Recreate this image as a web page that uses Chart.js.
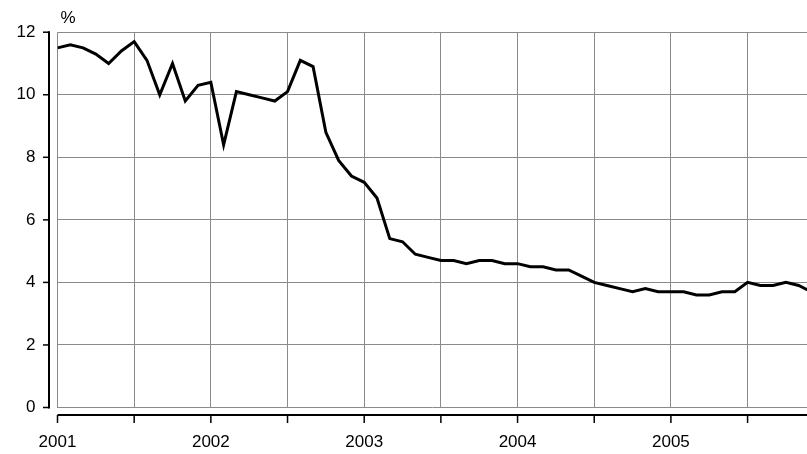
<!DOCTYPE html>
<html>
<head>
<meta charset="utf-8">
<script src="https://cdn.jsdelivr.net/npm/chart.js@4"></script>
<style>
  body { margin: 0; background: #fff; }
  #wrap { width: 807px; height: 454px; }
</style>
</head>
<body>
<div id="wrap"><canvas id="chart"></canvas></div>
<script>
// monthly values, Jan 2001 onwards (%)
const startYear = 2001;
const rates = [
  11.5, 11.6, 11.5, 11.3, 11.0, 11.4, 11.7, 11.1, 10.0, 11.0, 9.8, 10.3,
  10.4, 8.4, 10.1, 10.0, 9.9, 9.8, 10.1, 11.1, 10.9, 8.8, 7.9, 7.4,
  7.2, 6.7, 5.4, 5.3, 4.9, 4.8, 4.7, 4.7, 4.6, 4.7, 4.7, 4.6,
  4.6, 4.5, 4.5, 4.4, 4.4, 4.2, 4.0, 3.9, 3.8, 3.7, 3.8, 3.7,
  3.7, 3.7, 3.6, 3.6, 3.7, 3.7, 4.0, 3.9, 3.9, 4.0, 3.9, 3.7
];
const yTicks = [0, 2, 4, 6, 8, 10, 12];
const unitLabel = "%";

const points = rates.map((v, i) => ({ x: i, y: v }));
const font = { family: "'Liberation Sans', Arial, sans-serif", size: 17 };

// axis lines sit a few pixels away from the plot, like the original
const axesPlugin = {
  id: "offsetAxes",
  afterDraw(chart) {
    const ctx = chart.ctx;
    const area = chart.chartArea;
    const xs = chart.scales.x;
    const ys = chart.scales.y;
    ctx.save();
    ctx.strokeStyle = "#000";
    // y axis
    const ax = area.left - 8.5;
    ctx.lineWidth = 2;
    ctx.beginPath();
    ctx.moveTo(ax, area.top - 1);
    ctx.lineTo(ax, area.bottom + 1);
    ctx.stroke();
    ctx.lineWidth = 1.5;
    yTicks.forEach((t) => {
      const py = ys.getPixelForValue(t);
      ctx.beginPath();
      ctx.moveTo(ax - 6, py);
      ctx.lineTo(ax, py);
      ctx.stroke();
    });
    // x axis
    const ay = area.bottom + 7.5;
    ctx.lineWidth = 2;
    ctx.beginPath();
    ctx.moveTo(area.left, ay);
    ctx.lineTo(area.right, ay);
    ctx.stroke();
    ctx.lineWidth = 1.5;
    xs.ticks.forEach((t) => {
      const px = xs.getPixelForValue(t.value);
      ctx.beginPath();
      ctx.moveTo(px, ay);
      ctx.lineTo(px, ay + 8);
      ctx.stroke();
    });
    // unit label
    ctx.fillStyle = "#000";
    ctx.font = "17px " + font.family;
    ctx.textBaseline = "middle";
    ctx.textAlign = "left";
    ctx.fillText(unitLabel, area.left + 3, area.top - 14);
    ctx.restore();
  }
};

new Chart(document.getElementById("chart"), {
  type: "line",
  data: {
    datasets: [{
      data: points,
      borderColor: "#000",
      borderWidth: 3,
      pointRadius: 0,
      fill: false,
      tension: 0
    }]
  },
  options: {
    responsive: true,
    maintainAspectRatio: false,
    animation: false,
    layout: { padding: { top: 29.5, right: 0, bottom: 0, left: 0 } },
    plugins: { legend: { display: false }, tooltip: { enabled: false } },
    scales: {
      x: {
        type: "linear",
        min: 0,
        max: 58.65,
        afterFit: (s) => { s.height = 46.5; },
        grid: { color: "#8a8a8a", lineWidth: 1, drawTicks: false },
        border: { display: false },
        ticks: {
          stepSize: 6,
          includeBounds: false,
          autoSkip: false,
          maxRotation: 0,
          padding: 25,
          color: "#000",
          font: font,
          callback: (v) => (v % 12 === 0 ? String(startYear + v / 12) : "")
        }
      },
      y: {
        min: 0,
        max: 12,
        afterFit: (s) => { s.width = 57.5; },
        afterBuildTicks: (s) => { s.ticks = yTicks.map((v) => ({ value: v })); },
        grid: { color: "#8a8a8a", lineWidth: 1, drawTicks: false },
        border: { display: false },
        ticks: { padding: 22, color: "#000", font: font }
      }
    }
  },
  plugins: [axesPlugin]
});
</script>
</body>
</html>
